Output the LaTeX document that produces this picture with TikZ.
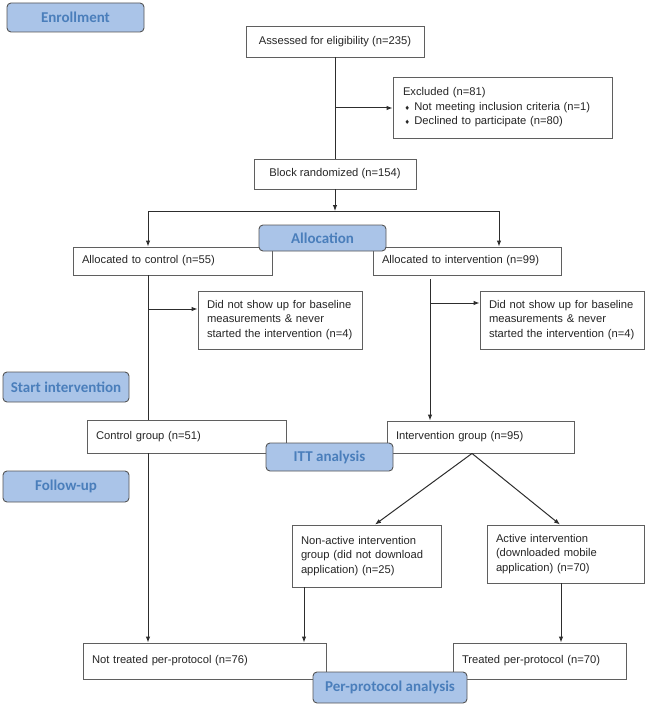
\documentclass[tikz,border=0pt]{standalone}
\usepackage{fontspec}
\setmainfont{Liberation Sans}
\newfontfamily\labfont{Carlito}
\newfontfamily\djv{DejaVu Sans}
\usetikzlibrary{arrows.meta}
\definecolor{labfill}{RGB}{170,196,232}
\definecolor{labtext}{RGB}{74,126,187}
\definecolor{labdraw}{RGB}{85,85,85}
\definecolor{linec}{RGB}{45,45,45}
\definecolor{boxc}{RGB}{95,95,95}
\newcommand{\dm}{{\djv\fontsize{6}{6}\selectfont ♦}}
\tikzset{
  box/.style={draw=boxc, line width=0.9pt, fill=white, inner xsep=9pt, inner ysep=1pt,
    align=left, font=\fontsize{11.2}{14.5}\selectfont, text=black!85},
  cbox/.style={draw=boxc, line width=0.9pt, fill=white, inner sep=1pt, align=center,
    font=\fontsize{11.2}{14.5}\selectfont, text=black!85},
  lab/.style={draw=labdraw, line width=0.9pt, fill=labfill, rounded corners=4pt, inner sep=0pt,
    font=\labfont\bfseries\fontsize{15}{18}\selectfont, text=labtext},
  conn/.style={draw=linec, line width=1pt},
  arr/.style={conn, -{Latex[length=6pt,width=4.5pt]}}
}
\begin{document}
\begin{tikzpicture}[x=1pt,y=-1pt]
\useasboundingbox (0,0) rectangle (647,706);
% boxes
\node[cbox, minimum width=178pt, minimum height=31pt] (assess) at (335,41.5) {Assessed for eligibility (n=235)};
\node[box, inner xsep=10pt, text width=199pt, minimum height=61pt] (excl) at (502.5,107.5)
  {Excluded (n=81)\\
   \hspace*{1.5pt}\dm\hspace{4.5pt}Not meeting inclusion criteria (n=1)\\
   \hspace*{1.5pt}\dm\hspace{4.5pt}Declined to participate (n=80)};
\node[cbox, minimum width=162pt, minimum height=30pt] (block) at (335,174) {Block randomized (n=154)};
\node[box, text width=181pt, minimum height=28pt] (alc) at (172.5,261) {Allocated to control (n=55)};
\node[box, text width=170pt, minimum height=28pt] (ali) at (467,261) {Allocated to intervention (n=99)};
\node[box, text width=146pt, minimum height=58pt] (dn1) at (280,320)
  {\mbox{Did not show up for baseline}\\\mbox{measurements \& never}\\\mbox{started the intervention (n=4)}};
\node[box, text width=146pt, minimum height=58pt] (dn2) at (562,320)
  {\mbox{Did not show up for baseline}\\\mbox{measurements \& never}\\\mbox{started the intervention (n=4)}};
\node[box, text width=181pt, minimum height=33pt] (cg) at (186.5,436.5) {Control group (n=51)};
\node[box, text width=169pt, minimum height=32pt] (ig) at (480.5,437) {Intervention group (n=95)};
\node[box, text width=131pt, minimum height=62pt] (na) at (366.5,556)
  {\mbox{Non-active intervention}\\\mbox{group (did not download}\\\mbox{application) (n=25)}};
\node[box, text width=139pt, minimum height=58pt] (ac) at (565.5,554)
  {\mbox{Active intervention}\\\mbox{(downloaded mobile}\\\mbox{application) (n=70)}};
\node[box, text width=225pt, minimum height=36pt] (nt) at (204.5,661) {Not treated per-protocol (n=76)};
\node[box, text width=155pt, minimum height=36pt] (tr) at (539.5,661) {Treated per-protocol (n=70)};
% junction coordinates
\coordinate (jx) at (335,108);
\coordinate (js) at (335,211);
\coordinate (jl) at (148,211);
\coordinate (jr) at (499,211);
\coordinate (jc) at (148,309);
\coordinate (ji) at (430,303);
\coordinate (cx) at (148,0);
\coordinate (ix) at (430,0);
\coordinate (dgx) at (472,0);
\coordinate (nax) at (304,0);
\coordinate (acx) at (561,0);
\coordinate (nat) at (375,525);
\coordinate (act) at (560,525);
% connectors
\draw[conn] (assess.south) -- (block.north);
\draw[arr] (jx) -- (excl.west |- jx);
\draw[arr] (block.south) -- (js);
\draw[conn] (jl) -- (jr);
\draw[arr] (jl) -- (jl |- alc.north);
\draw[arr] (jr) -- (jr |- ali.north);
\draw[conn] (alc.south -| cx) -- (cg.north -| cx);
\draw[arr] (jc) -- (dn1.west |- jc);
\draw[arr] ([yshift=-4pt]ali.south -| ix) -- (ig.north -| ix);
\draw[arr] (ji) -- (dn2.west |- ji);
\draw[arr] (ig.south -| dgx) -- (na.north -| nat);
\draw[arr] (ig.south -| dgx) -- (ac.north -| act);
\draw[arr] (cg.south -| cx) -- (nt.north -| cx);
\draw[arr] (na.south -| nax) -- (nt.north -| nax);
\draw[arr] (ac.south -| acx) -- (tr.north -| acx);
% stage labels
\node[lab, minimum width=137pt, minimum height=29pt] (lenr) at (75.5,17.5) {Enrollment};
\node[lab, minimum width=127pt, minimum height=26pt] (lall) at (322.5,238) {Allocation};
\node[lab, minimum width=126pt, minimum height=30pt] (lstart) at (66,387) {Start intervention};
\node[lab, minimum width=127pt, minimum height=28pt] (litt) at (329.5,457) {ITT analysis};
\node[lab, minimum width=126pt, minimum height=31pt] (lfol) at (66,486.5) {Follow-up};
\node[lab, minimum width=154pt, minimum height=31pt] (lpp) at (390,687.5) {Per-protocol analysis};
\end{tikzpicture}
\end{document}
